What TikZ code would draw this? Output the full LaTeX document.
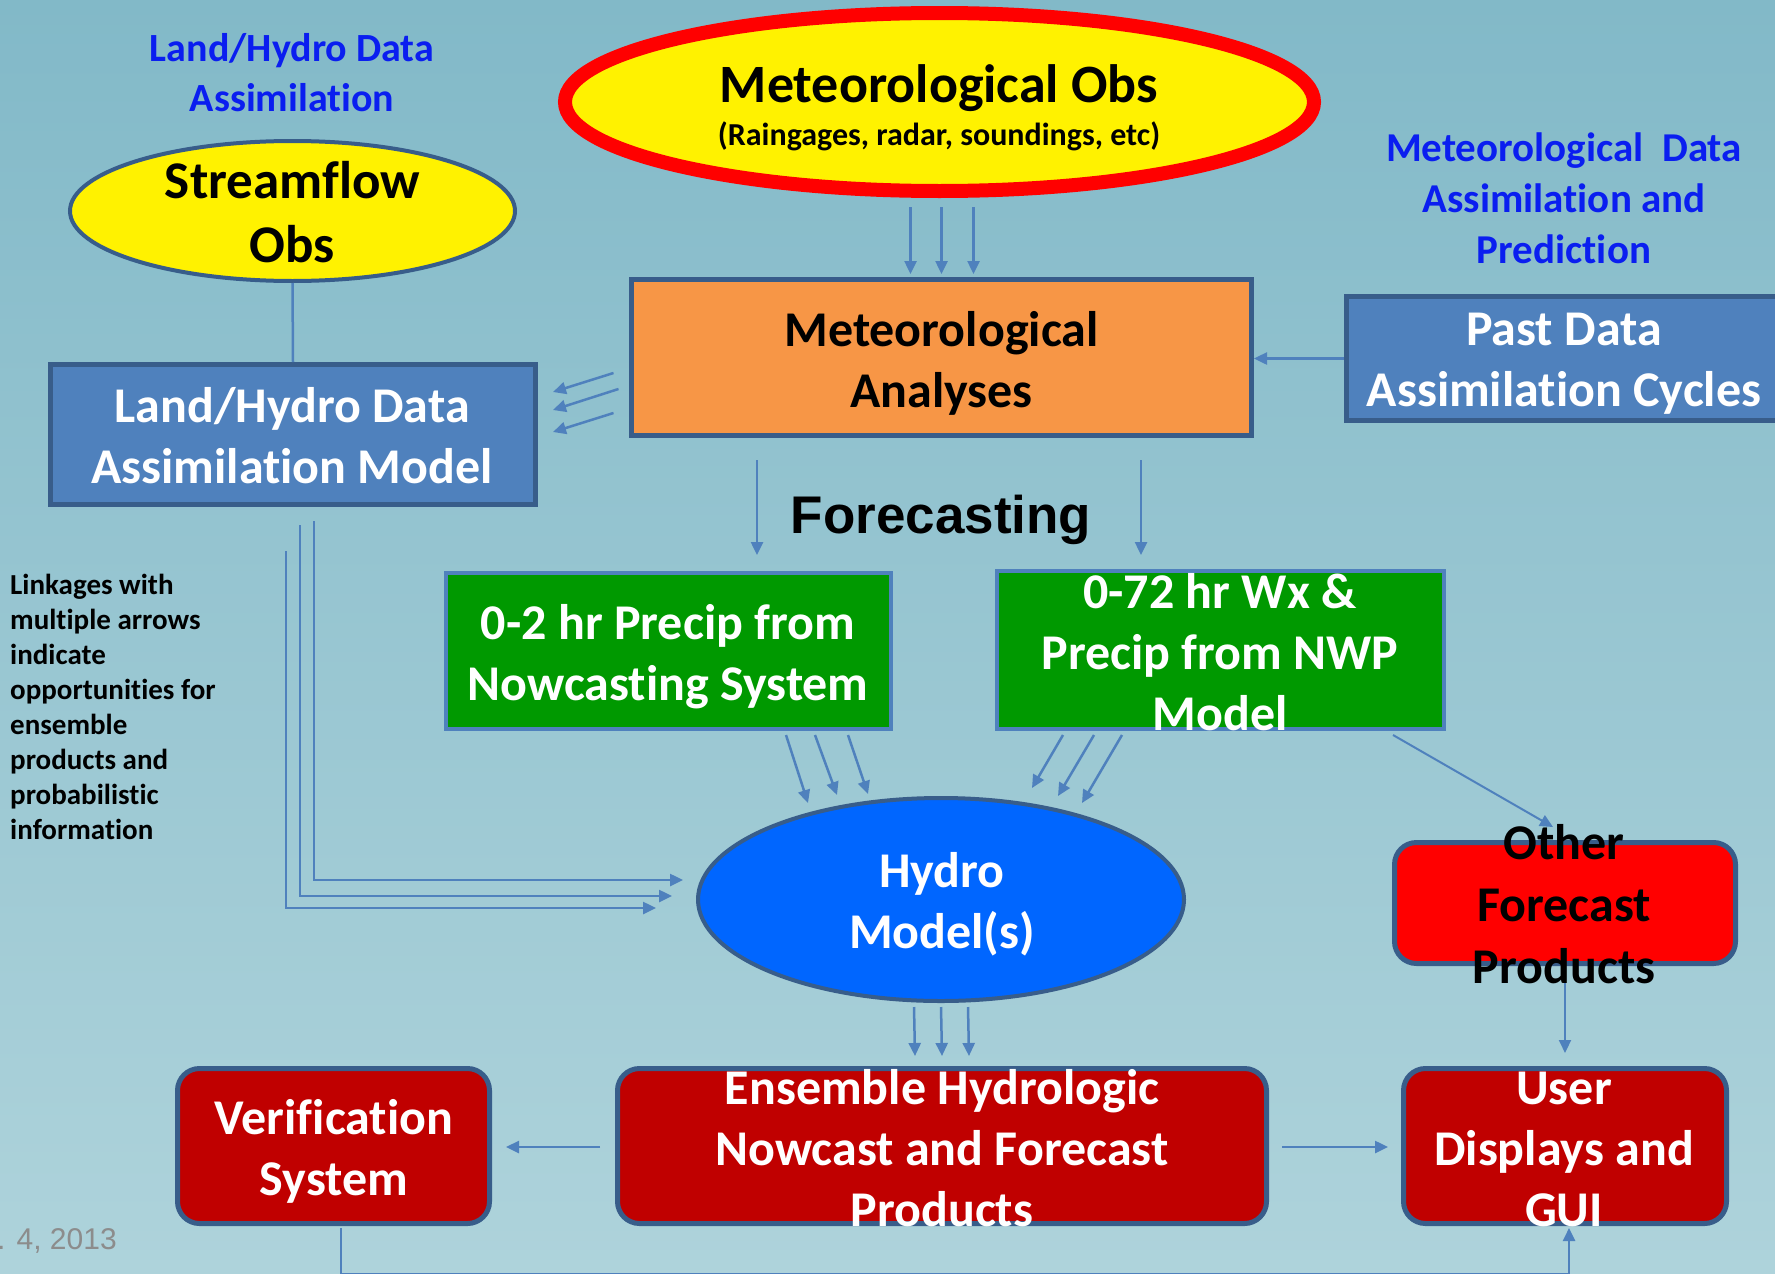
\documentclass[tikz,border=0pt]{standalone}
\usepackage{fontspec}
\setmainfont{Carlito}[Ligatures=NoCommon]
\newfontfamily\arialfont{Liberation Sans}
\usetikzlibrary{shapes.geometric,arrows.meta,calc}
\definecolor{bgtop}{RGB}{130,185,200}
\definecolor{bgbot}{RGB}{174,211,219}
\definecolor{edgeblue}{RGB}{56,93,138}
\definecolor{boxblue}{RGB}{79,129,189}
\definecolor{arrblue}{RGB}{79,129,189}
\definecolor{orangefill}{RGB}{247,150,70}
\definecolor{greenfill}{RGB}{0,153,0}
\definecolor{hydroblue}{RGB}{0,102,255}
\definecolor{darkred}{RGB}{192,0,0}
\definecolor{titleblue}{RGB}{10,30,240}
\definecolor{dategray}{RGB}{140,140,140}
\begin{document}
\begin{tikzpicture}[x=1pt,y=-1pt,
  box/.style={rectangle, draw=edgeblue, line width=5pt, inner sep=0pt},
  rbox/.style={box, rounded corners=22pt},
  ellbox/.style={ellipse, draw=edgeblue, line width=4pt, inner sep=0pt},
  txt/.style={inner sep=0pt, align=center, font=\bfseries\fontsize{50}{61}\selectfont},
  wtxt/.style={txt, text=white},
  btitle/.style={inner sep=0pt, align=center, text=titleblue},
  arr/.style={draw=arrblue, line width=2.5pt, -{Triangle[length=13pt,width=12pt]}},
  conn/.style={draw=arrblue, line width=2.5pt}
]
\useasboundingbox (0,0) rectangle (1775,1274);
\shade[top color=bgtop, bottom color=bgbot] (0,0) rectangle (1775,1274);

% ---------- shapes ----------
\node[ellipse, draw=red, line width=14pt, fill=yellow, minimum width=749pt, minimum height=178pt, inner sep=0pt] (metobs) at (939.5,102) {};
\node[ellbox, fill=yellow, minimum width=445pt, minimum height=140pt] (stream) at (292.5,211) {};
\node[box, fill=orangefill, minimum width=620pt, minimum height=156pt] (metana) at (941.5,357.5) {};
\node[box, fill=boxblue, minimum width=440pt, minimum height=124pt] (past) at (1566,358.5) {};
\node[box, fill=boxblue, minimum width=485pt, minimum height=140pt] (landhydro) at (293,434.5) {};
\node[box, draw=boxblue, line width=4pt, fill=greenfill, minimum width=445pt, minimum height=156pt] (nowcast) at (668.5,651) {};
\node[box, draw=boxblue, line width=4pt, fill=greenfill, minimum width=447pt, minimum height=158pt] (nwp) at (1220.5,650) {};
\node[ellbox, fill=hydroblue, minimum width=486pt, minimum height=203pt] (hydro) at (941,899.5) {};
\node[rbox, fill=red, minimum width=341pt, minimum height=121pt] (other) at (1565,903) {};
\node[rbox, fill=darkred, minimum width=323pt, minimum height=155pt] (user) at (1565,1146) {};
\node[rbox, fill=darkred, minimum width=649pt, minimum height=155pt] (ens) at (942,1146) {};
\node[rbox, fill=darkred, minimum width=312pt, minimum height=155pt] (verif) at (333.5,1146) {};

% ---------- connectors ----------
\foreach \dx in {-31,0,32}
  \draw[arr] ($(metobs.south -| metana.north)+(\dx,9)$) -- ($(metana.north)+(\dx,-3)$);

\draw[arr] ($(metana.west)+(-15.5,15.5)$) -- ($(landhydro.east)+(15,-42.5)$);
\draw[arr] ($(metana.west)+(-10.5,31.5)$) -- ($(landhydro.east)+(15,-24.5)$);
\draw[arr] ($(metana.west)+(-15.5,55.5)$) -- ($(landhydro.east)+(15,-2.5)$);

\draw[arr] (past.west) -- (past.west -| metana.east);

\draw[conn] (stream.south) -- (landhydro.north);

\coordinate (fcstL) at ($(metana.south)+(-184.5,117)$);
\coordinate (fcstR) at ($(metana.south)+(199.5,117)$);
\draw[arr] ($(metana.south)+(-184.5,22)$) -- (fcstL);
\draw[arr] ($(metana.south)+(199.5,22)$) -- (fcstR);

\draw[arr] ($(nowcast.south)+(117.5,4)$) -- ($(hydro.center)+(-133,-96.5)$);
\draw[arr] ($(nowcast.south)+(146.5,4)$) -- ($(hydro.center)+(-104,-104.5)$);
\draw[arr] ($(nowcast.south)+(179.5,4)$) -- ($(hydro.center)+(-73,-105.5)$);

\draw[arr] ($(nwp.south)+(-157.5,4)$) -- ($(hydro.center)+(91,-111.5)$);
\draw[arr] ($(nwp.south)+(-126.5,4)$) -- ($(hydro.center)+(117,-103.5)$);
\draw[arr] ($(nwp.south)+(-98.5,4)$) -- ($(hydro.center)+(141,-96.5)$);

\draw[arr, line width=2pt] ($(nwp.south)+(172.5,4)$) -- ($(other.north)+(-12,-13)$);

\draw[arr] ($(landhydro.south)+(21,14)$) |- ($(hydro.west)+(-13,-19.5)$);
\draw[arr] ($(landhydro.south)+(7,18)$) |- ($(hydro.west)+(-24,-3.5)$);
\draw[arr] ($(landhydro.south)+(-7,44)$) |- ($(hydro.west)+(-40,8.5)$);

\foreach \dx in {-27,0,27}
  \draw[arr] ($(hydro.south)+(\dx,4)$) -- ($(ens.north)+(\dx,-10)$);

\draw[arr] ($(ens.west)+(-15,1)$) -- ($(verif.east)+(14,1)$);
\draw[arr] ($(ens.east)+(13,1)$) -- ($(user.west)+(-13,1)$);
\draw[arr, line width=2pt] ($(other.south)+(0,4)$) -- ($(user.north)+(0,-13)$);
\draw[arr] ($(verif.south)+(7.5,2)$) -- ++(0,46) -| ($(user.south)+(4,2)$);

% ---------- texts ----------
\node[btitle, font=\bfseries\fontsize{40}{50}\selectfont] (ldatitle) at (292,73) {Land/Hydro Data\\Assimilation};
\node[btitle, font=\bfseries\fontsize{41}{51}\selectfont] (mdatitle) at (1564,198) {Meteorological\ \ Data\\Assimilation and\\Prediction};

\node[txt, font=\bfseries\fontsize{54}{60}\selectfont] (metobsT) at (939,88.5) {Meteorological Obs};
\node[txt, font=\bfseries\fontsize{32}{38}\selectfont] (metobsS) at (939,136) {(Raingages, radar, soundings, etc)};
\node[txt, font=\bfseries\fontsize{53}{64}\selectfont] (streamT) at (292.5,212.5) {Streamflow\\Obs};
\node[txt] (metanaT) at (941.5,363) {Meteorological\\Analyses};
\node[wtxt] (pastT) at (1564,364) {Past Data\\Assimilation Cycles};
\node[wtxt] (landhydroT) at (292,436) {Land/Hydro Data\\Assimilation Model};
\node[inner sep=0pt, font=\arialfont\bfseries\fontsize{53}{60}\selectfont] (fcst) at (941,519.5) {Forecasting};
\node[wtxt] (nowcastT) at (668,657) {0-2 hr Precip from\\Nowcasting System};
\node[wtxt] (nwpT) at (1220,652.5) {0-72 hr Wx \&\\Precip from NWP\\Model};
\node[wtxt] (hydroT) at (942,904.5) {Hydro\\Model(s)};
\node[txt, font=\bfseries\fontsize{50}{62}\selectfont] (otherT) at (1564,904.5) {Other\\Forecast\\Products};
\node[wtxt] (userT) at (1564,1149) {User\\Displays and\\GUI};
\node[wtxt] (ensT) at (942,1148) {Ensemble Hydrologic\\Nowcast and Forecast\\Products};
\node[wtxt] (verifT) at (334,1151) {Verification\\System};

\node[inner sep=0pt, anchor=west, align=left, font=\bfseries\fontsize{29}{35}\selectfont] (linknote) at (10,706.5) {Linkages with\\multiple arrows\\indicate\\opportunities for\\ensemble\\products and\\probabilistic\\information};
\node[inner sep=0pt, anchor=west, text=dategray, font=\arialfont\fontsize{30}{34}\selectfont] (date) at (-3,1241) {. 4, 2013};
\end{tikzpicture}
\end{document}
